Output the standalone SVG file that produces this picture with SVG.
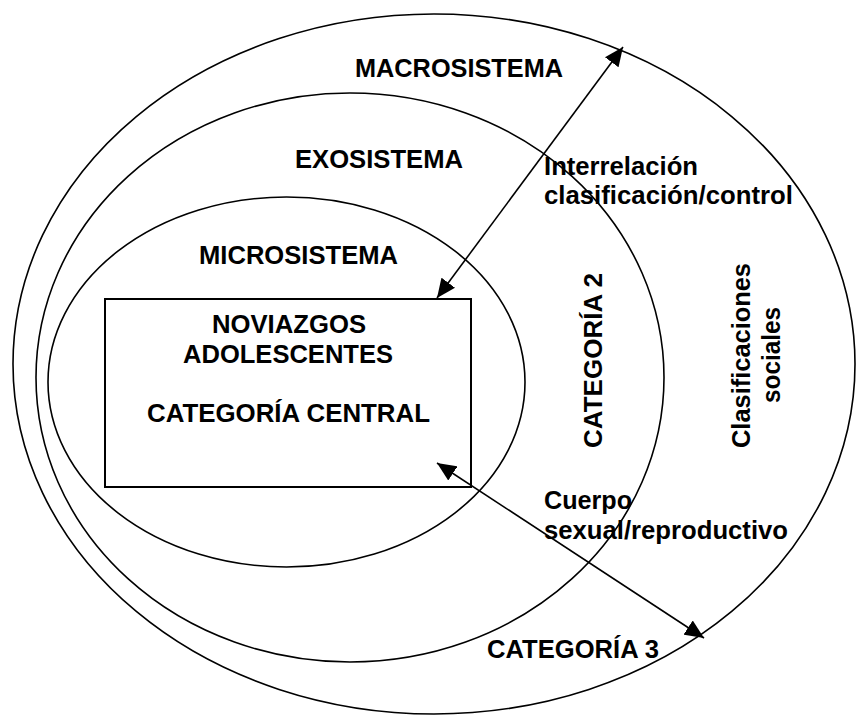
<svg xmlns="http://www.w3.org/2000/svg" width="856" height="717" viewBox="0 0 856 717">
  <style>
    .ring { fill: none; stroke: #000; stroke-width: 1.6; }
    .box { fill: #fff; stroke: #000; stroke-width: 2; }
    .lbl { font-family: "Liberation Sans", Arial, sans-serif; font-weight: bold; font-size: 25.5px; fill: #000; }
    .mid { text-anchor: middle; }
    .link { stroke: #000; stroke-width: 1.6; fill: none; marker-start: url(#head); marker-end: url(#head); }
  </style>
  <defs>
    <marker id="head" viewBox="0 0 19 17" refX="19" refY="8.5" markerWidth="19" markerHeight="17" markerUnits="userSpaceOnUse" orient="auto-start-reverse">
      <path d="M0,0 L19,8.5 L0,17 z" fill="#000"/>
    </marker>
  </defs>
  <rect width="856" height="717" fill="#fff"/>

  <!-- outer system ring -->
  <g id="macrosistema">
    <ellipse class="ring" cx="434" cy="364" rx="421" ry="350"/>
    <text class="lbl" x="355" y="77" textLength="208" lengthAdjust="spacingAndGlyphs">MACROSISTEMA</text>
    <text class="lbl mid" transform="translate(750,355.5) rotate(-90)" textLength="185" lengthAdjust="spacingAndGlyphs">Clasificaciones</text>
    <text class="lbl mid" transform="translate(780,355) rotate(-90)" textLength="96" lengthAdjust="spacingAndGlyphs">sociales</text>
  </g>

  <!-- middle system ring -->
  <g id="exosistema">
    <ellipse class="ring" cx="350" cy="377.5" rx="314" ry="284.5"/>
    <text class="lbl" x="295" y="167.5" textLength="168" lengthAdjust="spacingAndGlyphs">EXOSISTEMA</text>
    <text class="lbl mid" transform="translate(602,360.5) rotate(-90)" textLength="175" lengthAdjust="spacingAndGlyphs">CATEGORÍA 2</text>
  </g>

  <!-- inner system ring -->
  <g id="microsistema">
    <ellipse class="ring" cx="286.5" cy="382" rx="238.5" ry="185"/>
    <text class="lbl" x="199" y="263.5" textLength="199" lengthAdjust="spacingAndGlyphs">MICROSISTEMA</text>
  </g>

  <!-- central category box -->
  <g id="categoria-central">
    <rect class="box" x="105" y="299" width="366" height="188"/>
    <text class="lbl" x="212" y="333" textLength="154" lengthAdjust="spacingAndGlyphs">NOVIAZGOS</text>
    <text class="lbl" x="183" y="363" textLength="210" lengthAdjust="spacingAndGlyphs">ADOLESCENTES</text>
    <text class="lbl" x="147" y="422" textLength="283" lengthAdjust="spacingAndGlyphs">CATEGORÍA CENTRAL</text>
  </g>

  <!-- relation labels -->
  <g id="interrelacion">
    <text class="lbl" x="544" y="175" textLength="154" lengthAdjust="spacingAndGlyphs">Interrelación</text>
    <text class="lbl" x="544" y="204" textLength="249" lengthAdjust="spacingAndGlyphs">clasificación/control</text>
  </g>
  <g id="cuerpo">
    <text class="lbl" x="544" y="509" textLength="88" lengthAdjust="spacingAndGlyphs">Cuerpo</text>
    <text class="lbl" x="544" y="539" textLength="244" lengthAdjust="spacingAndGlyphs">sexual/reproductivo</text>
  </g>
  <g id="categoria-3">
    <text class="lbl" x="487" y="658" textLength="172" lengthAdjust="spacingAndGlyphs">CATEGORÍA 3</text>
  </g>

  <!-- double-headed connectors -->
  <g id="connectors">
    <line class="link" x1="437" y1="298" x2="623" y2="47"/>
    <line class="link" x1="437" y1="463" x2="704" y2="638"/>
  </g>
</svg>
